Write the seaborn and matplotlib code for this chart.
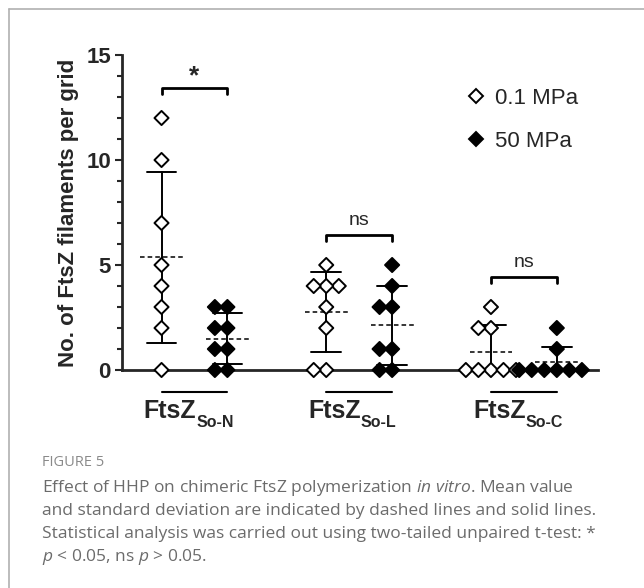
import pandas as pd
import matplotlib
matplotlib.use("Agg")
import matplotlib.pyplot as plt
import seaborn as sns
from matplotlib.lines import Line2D
from matplotlib.ticker import MultipleLocator

# filaments counted per grid, 8 grids per condition
groups = ["So-N", "So-L", "So-C"]
pressures = ["0.1 MPa", "50 MPa"]
son_low = [12, 10, 7, 5, 4, 3, 2, 0]
son_high = [3, 3, 2, 2, 1, 1, 0, 0]
sol_low = [5, 4, 4, 4, 3, 2, 0, 0]
sol_high = [5, 4, 3, 3, 1, 1, 0, 0]
soc_low = [3, 2, 2, 0, 0, 0, 0, 0]
soc_high = [2, 1, 0, 0, 0, 0, 0, 0]
sig_labels = ["*", "ns", "ns"]

rows = []
for g, lo, hi in zip(groups, [son_low, sol_low, soc_low], [son_high, sol_high, soc_high]):
    rows += [(g, pressures[0], v) for v in lo]
    rows += [(g, pressures[1], v) for v in hi]
df = pd.DataFrame(rows, columns=["group", "pressure", "count"])

sns.set_style("ticks")
plt.rcParams["font.family"] = ["Liberation Sans", "DejaVu Sans"]
plt.rcParams["mathtext.fontset"] = "custom"
plt.rcParams["mathtext.rm"] = "Open Sans"
plt.rcParams["mathtext.it"] = "Open Sans:italic"

fig = plt.figure(figsize=(6.44, 5.88), dpi=100)
ax = fig.add_axes([122 / 644, 218 / 588, 476 / 644, 315 / 588])

sns.swarmplot(data=df, x="group", y="count", hue="pressure", order=groups,
              hue_order=pressures, dodge=True, marker="D", size=7.2,
              palette={"0.1 MPa": "white", "50 MPa": "black"},
              edgecolor="black", linewidth=1.4, legend=False, ax=ax)
for c in ax.collections:
    c.set_clip_on(False)

sns.pointplot(data=df, x="group", y="count", hue="pressure", order=groups,
              hue_order=pressures, dodge=0.4, errorbar="sd", capsize=0.18,
              linestyle="none", marker="", palette=["black", "black"],
              err_kws={"linewidth": 1.4}, legend=False, ax=ax)

# dashed mean lines
means = df.groupby(["group", "pressure"])["count"].mean()
for i, g in enumerate(groups):
    for j, p in enumerate(pressures):
        x = i + (j - 0.5) * 0.4
        ax.hlines(means[(g, p)], x - 0.13, x + 0.13, colors="black",
                  linestyles=(0, (3, 2)), linewidth=1.1, zorder=4)

ax.set_xlim(-0.44, 2.45)
ax.set_ylim(0, 15)
ax.set_yticks([0, 5, 10, 15])
ax.yaxis.set_minor_locator(MultipleLocator(1))
ax.set_xticks([])
ax.set_xlabel("")
sns.despine(ax=ax)
ax.spines["left"].set_linewidth(2)
ax.spines["bottom"].set_linewidth(2)
ax.tick_params(axis="y", which="major", length=5, width=1.5, labelsize=16, pad=3)
ax.tick_params(axis="y", which="minor", length=3.5, width=1.5)
plt.setp(ax.get_yticklabels(), fontweight="bold")
ax.set_ylabel("No. of FtsZ filaments per grid", fontsize=16, fontweight="bold", labelpad=5)

# group labels under the axis
for i, g in enumerate(groups):
    ax.plot([i - 0.2, i + 0.2], [-1.05, -1.05], color="black", lw=1.5, clip_on=False)
    t = ax.text(i + 0.01, -1.95, "FtsZ", ha="right", va="center", fontsize=18,
                fontweight="bold", clip_on=False)
    ax.annotate(g, xy=(1, 0.02), xycoords=t, ha="left", va="center",
                fontsize=11.5, fontweight="bold", annotation_clip=False)

# significance brackets
for i, (g, lab) in enumerate(zip(groups, sig_labels)):
    top = df.loc[df["group"] == g, "count"].max() + 1.45
    ax.plot([i - 0.2, i - 0.2, i + 0.2, i + 0.2], [top - 0.3, top, top, top - 0.3],
            color="black", lw=2, clip_on=False)
    if lab == "*":
        ax.text(i, top + 0.55, lab, ha="center", va="center", fontsize=19, fontweight="bold")
    else:
        ax.text(i, top + 0.65, lab, ha="center", va="center", fontsize=14)

handles = [Line2D([], [], marker="D", ls="none", mfc="white", mec="black", mew=1.4, ms=7.5),
           Line2D([], [], marker="D", ls="none", mfc="black", mec="black", mew=1.4, ms=7.5)]
fig.legend(handles, pressures, loc="upper left", bbox_to_anchor=(458 / 644, 1 - 79 / 588),
           frameon=False, fontsize=16, handlelength=0.8, handletextpad=0.45,
           labelspacing=1.0, borderaxespad=0)

# panel frame
fig.add_artist(Line2D([9 / 644, 1], [1 - 9 / 588, 1 - 9 / 588], color="#b0b0b0", lw=1.2))
fig.add_artist(Line2D([9 / 644, 9 / 644], [0, 1 - 9 / 588], color="#b0b0b0", lw=1.2))

# caption
cap_color = "#6b6b6b"
fig.text(42 / 644, 1 - 462 / 588, "FIGURE 5", fontsize=10.5, color="#8a8a8a",
         family="Open Sans", va="center")
lines = [r"Effect of HHP on chimeric FtsZ polymerization $\mathit{in\ vitro}$. Mean value",
         "and standard deviation are indicated by dashed lines and solid lines.",
         "Statistical analysis was carried out using two-tailed unpaired t-test: *",
         r"$\mathit{p}$ < 0.05, ns $\mathit{p}$ > 0.05."]
for k, line in enumerate(lines):
    fig.text(42 / 644, 1 - (488 + 23 * k) / 588, line, fontsize=12.5, color=cap_color,
             family="Open Sans", va="center")

fig.savefig("out.png", dpi=100)
